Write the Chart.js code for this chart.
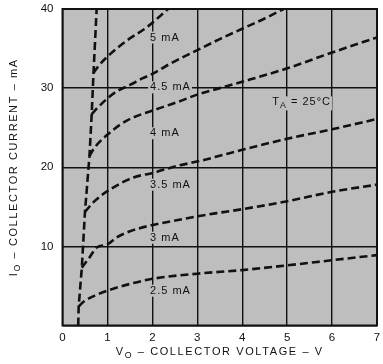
<!DOCTYPE html>
<html>
<head>
<meta charset="utf-8">
<script src="https://cdn.jsdelivr.net/npm/chart.js@4/dist/chart.umd.min.js"></script>
<style>
  html, body { margin: 0; padding: 0; background: #ffffff; }
  #wrap { width: 383px; height: 364px; position: relative; }
</style>
</head>
<body>
<div id="wrap"><canvas id="c" width="383" height="364"></canvas></div>
<script>
// Collector characteristics, V_O in volts vs I_O in mA, one pair of arrays per base-current curve
const v25 = [0.36, 0.47, 0.77, 1.0, 1.5, 2.0, 3.0, 4.0, 5.0, 6.0, 7.0];
const i25 = [2.4, 3.0, 3.9, 4.4, 5.25, 5.9, 6.55, 7.0, 7.6, 8.25, 8.9];

const v30 = [0.43, 0.6, 0.76, 1.0, 1.2, 1.5, 2.0, 2.54, 3.0, 3.43, 4.0, 5.0, 6.0, 7.0];
const i30 = [7.3, 8.6, 9.85, 10.25, 11.1, 11.9, 12.7, 13.3, 13.8, 14.2, 14.7, 15.7, 16.9, 17.8];

const v35 = [0.50, 0.69, 1.06, 1.58, 2.02, 2.54, 3.06, 3.5, 4.0, 5.0, 6.0, 7.0];
const i35 = [14.35, 15.6, 17.2, 18.7, 19.3, 20.15, 20.8, 21.45, 22.2, 23.6, 24.8, 26.1];

const v40 = [0.60, 0.69, 1.06, 1.43, 2.02, 2.54, 3.06, 3.5, 4.0, 5.0, 6.0, 7.0];
const i40 = [21.4, 22.3, 24.4, 25.9, 27.2, 28.2, 29.3, 30.0, 30.8, 32.5, 34.5, 36.4];

const v45 = [0.65, 0.76, 1.0, 1.21, 1.5, 1.8, 2.0, 2.4, 3.0, 3.5, 4.0, 4.5, 4.92];
const i45 = [26.7, 27.4, 28.7, 29.6, 30.4, 31.3, 31.8, 33.1, 34.8, 36.2, 37.5, 38.8, 40.0];

const v50 = [0.69, 0.8, 1.06, 1.43, 1.88, 2.35];
const i50 = [31.9, 32.8, 34.3, 36.0, 37.7, 40.0];

// Saturation edge joining the knees of the curves
const vSat = [0.35, 0.36, 0.43, 0.50, 0.60, 0.65, 0.69, 0.76];
const iSat = [0, 2.4, 7.3, 14.35, 21.4, 26.7, 31.9, 40];

const curveNames = ['2.5 mA', '3 mA', '3.5 mA', '4 mA', '4.5 mA', '5 mA'];
const xTicks = [0, 1, 2, 3, 4, 5, 6, 7];
const yTicks = [10, 20, 30, 40];

// Curve label anchors (left edge, vertical centre) in axis units
const labelAt = [
  { text: '2.5 mA', x: 1.95, y: 4.4 },
  { text: '3 mA',   x: 1.95, y: 11.1 },
  { text: '3.5 mA', x: 1.95, y: 17.8 },
  { text: '4 mA',   x: 1.95, y: 24.3 },
  { text: '4.5 mA', x: 1.95, y: 30.1 },
  { text: '5 mA',   x: 1.95, y: 36.4 }
];
const tempAt = { x: 4.67, y: 28.2 };

const PLOT_GRAY = '#bebebe';
const INK = '#111111';
const FONT = '"Liberation Sans", Arial, Helvetica, sans-serif';

function pts(xs, ys) { return xs.map((x, k) => ({ x: x, y: ys[k] })); }

const curveData = [[v25, i25], [v30, i30], [v35, i35], [v40, i40], [v45, i45], [v50, i50]];

const datasets = curveData.map((c, k) => ({
  label: curveNames[k],
  data: pts(c[0], c[1]),
  showLine: true,
  borderColor: INK,
  borderWidth: 2.6,
  borderDash: [8, 4],
  pointRadius: 0,
  cubicInterpolationMode: 'monotone',
  fill: false
}));
datasets.push({
  label: 'saturation',
  data: pts(vSat, iSat),
  showLine: true,
  borderColor: INK,
  borderWidth: 2.6,
  borderDash: [8, 4],
  pointRadius: 0,
  tension: 0,
  fill: false
});

// Text helpers: runs of normal / subscript text with tracking
function measureRuns(ctx, runs, size, spacing) {
  const widths = runs.map(r => {
    ctx.font = (r.sub ? size * 0.8 : size) + 'px ' + FONT;
    ctx.letterSpacing = spacing + 'px';
    return ctx.measureText(r.t).width;
  });
  return { widths: widths, total: widths.reduce((s, w) => s + w, 0) };
}
function paintRuns(ctx, runs, size, spacing, x0, y0) {
  const info = measureRuns(ctx, runs, size, spacing);
  let x = x0;
  runs.forEach((r, k) => {
    ctx.font = (r.sub ? size * 0.8 : size) + 'px ' + FONT;
    ctx.letterSpacing = spacing + 'px';
    ctx.fillText(r.t, x, y0 + (r.sub ? size * 0.3 : 0));
    x += info.widths[k];
  });
  return info.total;
}

const plotDecor = {
  id: 'plotDecor',
  beforeDraw(chart) {
    const a = chart.chartArea, ctx = chart.ctx;
    ctx.save();
    ctx.fillStyle = '#ffffff';
    ctx.fillRect(0, 0, chart.width, chart.height);
    ctx.fillStyle = PLOT_GRAY;
    ctx.fillRect(a.left, a.top, a.right - a.left, a.bottom - a.top);
    ctx.restore();
  },
  afterDatasetsDraw(chart) {
    const ctx = chart.ctx, xs = chart.scales.x, ys = chart.scales.y, a = chart.chartArea;
    ctx.save();
    ctx.textBaseline = 'middle';
    ctx.textAlign = 'left';
    // curve labels on a plain backing so grid lines break around them
    labelAt.forEach(l => {
      ctx.font = '11px ' + FONT;
      ctx.letterSpacing = '1px';
      const w = ctx.measureText(l.text).width;
      const px = xs.getPixelForValue(l.x), py = ys.getPixelForValue(l.y);
      ctx.fillStyle = PLOT_GRAY;
      ctx.fillRect(px - 2, py - 6, w + 3, 12);
      ctx.fillStyle = INK;
      ctx.fillText(l.text, px, py);
    });
    // ambient temperature note
    const tRuns = [{ t: 'T' }, { t: 'A', sub: true }, { t: ' = 25°C' }];
    const tx = xs.getPixelForValue(tempAt.x), ty = ys.getPixelForValue(tempAt.y);
    const tw = measureRuns(ctx, tRuns, 11, 1).total;
    ctx.fillStyle = PLOT_GRAY;
    ctx.fillRect(tx - 2, ty - 6, tw + 3, 14);
    ctx.fillStyle = INK;
    paintRuns(ctx, tRuns, 11, 1, tx, ty);

    // heavy frame
    ctx.strokeStyle = INK;
    ctx.lineWidth = 2;
    ctx.strokeRect(a.left, a.top, a.right - a.left, a.bottom - a.top);

    // axis titles
    ctx.fillStyle = INK;
    const xRuns = [{ t: 'V' }, { t: 'O', sub: true }, { t: ' – COLLECTOR VOLTAGE – V' }];
    const xw = measureRuns(ctx, xRuns, 11, 1.6).total;
    paintRuns(ctx, xRuns, 11, 1.6, (a.left + a.right) / 2 - xw / 2, 352);

    const yRuns = [{ t: 'I' }, { t: 'O', sub: true }, { t: ' – COLLECTOR CURRENT – mA' }];
    const yw = measureRuns(ctx, yRuns, 11, 1.6).total;
    ctx.translate(14, (a.top + a.bottom) / 2);
    ctx.rotate(-Math.PI / 2);
    paintRuns(ctx, yRuns, 11, 1.6, -yw / 2, 0);
    ctx.restore();
  }
};

new Chart(document.getElementById('c'), {
  type: 'scatter',
  data: { datasets: datasets },
  options: {
    responsive: false,
    animation: false,
    devicePixelRatio: 1,
    layout: { padding: { top: 9, right: 6, left: 0, bottom: 0 } },
    plugins: { legend: { display: false }, tooltip: { enabled: false } },
    scales: {
      x: {
        type: 'linear', min: 0, max: 7,
        afterBuildTicks: s => { s.ticks = xTicks.map(v => ({ value: v })); },
        afterFit: s => { s.height = 38.5; s.paddingLeft = 0; s.paddingRight = 0; },
        ticks: { color: INK, font: { family: FONT, size: 11.5 }, padding: 5 },
        grid: { color: INK, lineWidth: 1.4, drawTicks: false },
        border: { display: false }
      },
      y: {
        type: 'linear', min: 0, max: 40,
        afterBuildTicks: s => { s.ticks = [0].concat(yTicks).map(v => ({ value: v })); },
        afterFit: s => { s.width = 62.5; s.paddingTop = 0; s.paddingBottom = 0; },
        ticks: {
          color: INK, font: { family: FONT, size: 11.5 }, padding: 9,
          callback: v => (yTicks.includes(v) ? String(v) : '')
        },
        grid: { color: INK, lineWidth: 1.4, drawTicks: false },
        border: { display: false }
      }
    }
  },
  plugins: [plotDecor]
});
</script>
</body>
</html>
